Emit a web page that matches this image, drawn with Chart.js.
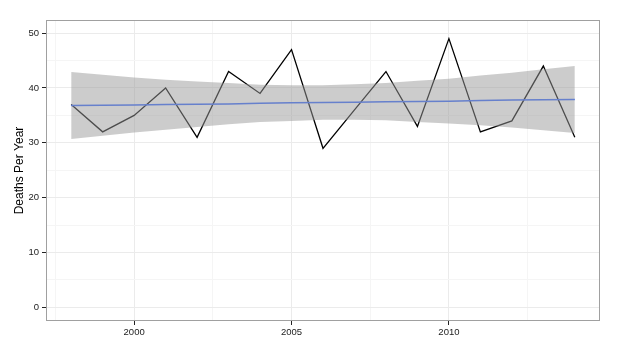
<!DOCTYPE html>
<html>
<head>
<meta charset="utf-8">
<script src="https://cdn.jsdelivr.net/npm/chart.js@4"></script>
<style>
  html, body { margin: 0; padding: 0; background: #fff; }
  #wrap { width: 619px; height: 363px; }
</style>
</head>
<body>
<div id="wrap"><canvas id="deathsChart"></canvas></div>
<script>
// values
const years = [1998, 1999, 2000, 2001, 2002, 2003, 2004, 2005, 2006, 2007, 2008, 2009, 2010, 2011, 2012, 2013, 2014];
const deaths = [37, 32, 35, 40, 31, 43, 39, 47, 29, 36, 43, 33, 49, 32, 34, 44, 31];
const trendFit = [36.8, 36.85, 36.9, 37.0, 37.05, 37.1, 37.2, 37.3, 37.35, 37.4, 37.5, 37.55, 37.6, 37.7, 37.8, 37.85, 37.9];
const bandUpper = [42.9, 42.4, 41.9, 41.5, 41.2, 40.9, 40.6, 40.5, 40.5, 40.7, 40.9, 41.3, 41.7, 42.3, 42.8, 43.4, 44.0];
const bandLower = [30.7, 31.3, 31.9, 32.4, 32.9, 33.4, 33.8, 34.0, 34.2, 34.2, 34.1, 33.8, 33.5, 33.2, 32.8, 32.3, 31.8];
const xTicks = [1997.5, 2000, 2002.5, 2005, 2007.5, 2010, 2012.5];
const yTicks = [0, 5, 10, 15, 20, 25, 30, 35, 40, 45, 50];

function toPoints(vals) {
  return years.map((y, i) => ({ x: y, y: vals[i] }));
}

const isMajorX = v => v % 5 === 0;
const isMajorY = v => v % 10 === 0;

// ggplot-like panel border
const panelBorder = {
  id: 'panelBorder',
  afterDraw(chart) {
    const a = chart.chartArea;
    const c = chart.ctx;
    c.save();
    c.strokeStyle = '#a0a0a0';
    c.lineWidth = 1;
    c.strokeRect(a.left + 0.5, a.top + 0.5, a.right - a.left - 1, a.bottom - a.top - 1);
    c.restore();
  }
};

const tickFont = { family: 'Liberation Sans, Arial, sans-serif', size: 9.5 };

new Chart(document.getElementById('deathsChart').getContext('2d'), {
  type: 'line',
  data: {
    datasets: [
      {
        label: 'lower',
        data: toPoints(bandLower),
        borderWidth: 0,
        pointRadius: 0,
        fill: false
      },
      {
        label: 'upper',
        data: toPoints(bandUpper),
        borderWidth: 0,
        pointRadius: 0,
        backgroundColor: 'rgba(153,153,153,0.5)',
        fill: '-1'
      },
      {
        label: 'fit',
        data: toPoints(trendFit),
        borderColor: '#3366FF',
        borderWidth: 1.5,
        pointRadius: 0,
        fill: false
      },
      {
        label: 'deaths',
        data: toPoints(deaths),
        borderColor: '#000000',
        borderWidth: 1.3,
        pointRadius: 0,
        tension: 0,
        fill: false
      }
    ]
  },
  options: {
    responsive: true,
    maintainAspectRatio: false,
    animation: false,
    layout: { padding: { top: 20, right: 19, left: 0, bottom: 0 } },
    plugins: {
      legend: { display: false },
      tooltip: { enabled: false }
    },
    scales: {
      x: {
        type: 'linear',
        min: 1997.2,
        max: 2014.8,
        afterBuildTicks: s => { s.ticks = xTicks.map(v => ({ value: v })); },
        afterFit: s => { s.height = 42; },
        border: { display: false },
        grid: {
          color: c => isMajorX(c.tick.value) ? '#ebebeb' : '#f5f5f5',
          tickColor: c => isMajorX(c.tick.value) ? '#222222' : 'rgba(0,0,0,0)',
          tickLength: 4
        },
        ticks: {
          autoSkip: false,
          maxRotation: 0,
          padding: 2,
          color: '#222222',
          font: tickFont,
          callback: v => isMajorX(v) ? String(v) : ''
        }
      },
      y: {
        min: -2.5,
        max: 52.4,
        afterBuildTicks: s => { s.ticks = yTicks.map(v => ({ value: v })); },
        afterFit: s => { s.width = 46; },
        border: { display: false },
        grid: {
          color: c => isMajorY(c.tick.value) ? '#ebebeb' : '#f5f5f5',
          tickColor: c => isMajorY(c.tick.value) ? '#222222' : 'rgba(0,0,0,0)',
          tickLength: 4
        },
        ticks: {
          autoSkip: false,
          padding: 3,
          color: '#222222',
          font: tickFont,
          callback: v => isMajorY(v) ? String(v) : ''
        },
        title: {
          display: true,
          text: 'Deaths Per Year',
          color: '#000000',
          font: { family: 'Liberation Sans, Arial, sans-serif', size: 12 },
          padding: { top: 12, bottom: 0 }
        }
      }
    }
  },
  plugins: [panelBorder]
});
</script>
</body>
</html>
